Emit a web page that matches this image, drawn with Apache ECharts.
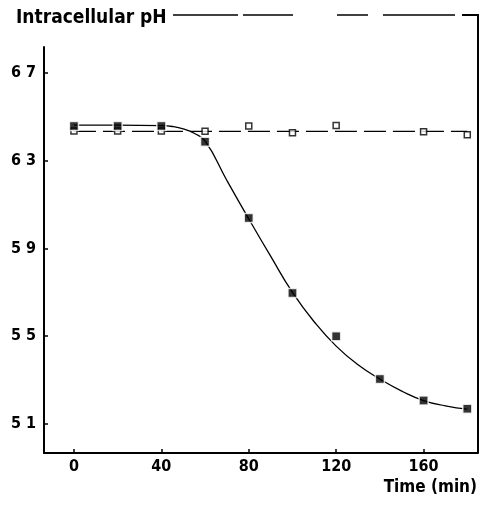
<!DOCTYPE html>
<html>
<head>
<meta charset="utf-8">
<script src="https://cdn.jsdelivr.net/npm/echarts@6/dist/echarts.min.js"></script>
<style>
  html, body { margin: 0; padding: 0; background: #fff; }
  #chart { width: 484px; height: 505px; }
</style>
</head>
<body>
<div id="chart"></div>
<script>
// Sampling times (min) and measured intracellular pH
var treatedTimes = [0, 20, 40, 60, 80, 100, 120, 140, 160, 180];
var treatedPH    = [6.458, 6.458, 6.458, 6.386, 6.039, 5.697, 5.50, 5.305, 5.207, 5.169];

var controlTimes = [0, 20, 40, 60, 80, 100, 120, 160, 180];
var controlPH    = [6.436, 6.436, 6.436, 6.434, 6.458, 6.427, 6.46, 6.432, 6.418];

// Hand-fitted curve through the treated series
var fitTimes = [0, 20, 40, 45, 50, 55, 60, 70, 80, 90, 100, 110, 120, 130, 140, 150, 160, 170, 180];
var fitPH    = [6.462, 6.462, 6.46, 6.456, 6.445, 6.425, 6.39, 6.21, 6.035, 5.865, 5.70, 5.565, 5.455, 5.37, 5.305, 5.25, 5.207, 5.183, 5.168];

// Mean level of the control series
var controlLevelTimes = [0, 180];
var controlLevelPH    = [6.434, 6.434];

// Axis ticks
var xTicks = [0, 40, 80, 120, 160];
var yTicks = [5.1, 5.5, 5.9, 6.3, 6.7];

function pairs(xs, ys) {
  return xs.map(function (x, i) { return [x, ys[i]]; });
}

var FONT = '"DejaVu Sans Condensed", "DejaVu Sans", sans-serif';
var INK = '#000';

var chart = echarts.init(document.getElementById('chart'), null, { renderer: 'canvas' });

chart.setOption({
  animation: false,
  backgroundColor: '#fff',
  title: [
    {
      text: 'Intracellular pH',
      left: 11, top: 4,
      textStyle: { fontFamily: FONT, fontWeight: 'bold', fontSize: 19, color: INK }
    },
    {
      text: 'Time (min)',
      right: 2, top: 474,
      textStyle: { fontFamily: FONT, fontWeight: 'bold', fontSize: 17, color: INK }
    }
  ],
  grid: { left: 44, right: 6, top: 47, bottom: 52, containLabel: false },
  xAxis: {
    type: 'value',
    min: -13.7, max: 184.9,
    splitLine: { show: false },
    axisLine: { show: true, onZero: false, lineStyle: { color: INK, width: 2 } },
    axisTick: { show: true, inside: true, length: 4, customValues: xTicks, lineStyle: { color: INK, width: 1.5 } },
    axisLabel: {
      customValues: xTicks, margin: 6, color: INK,
      fontFamily: FONT, fontWeight: 'bold', fontSize: 16,
      formatter: function (v) { return String(Math.round(v)); }
    }
  },
  yAxis: {
    type: 'value',
    min: 4.9678, max: 6.8183,
    splitLine: { show: false },
    axisLine: { show: true, onZero: false, lineStyle: { color: INK, width: 2 } },
    axisTick: { show: true, inside: true, length: 4, customValues: yTicks, lineStyle: { color: INK, width: 1.5 } },
    axisLabel: {
      customValues: yTicks, margin: 8, color: INK,
      fontFamily: FONT, fontWeight: 'bold', fontSize: 16,
      formatter: function (v) { return v.toFixed(1).replace('.', ' '); }
    }
  },
  graphic: [
    // open frame along the top and right side
    { type: 'line', shape: { x1: 173, y1: 15, x2: 238, y2: 15 }, style: { stroke: INK, lineWidth: 1.5 } },
    { type: 'line', shape: { x1: 243, y1: 15, x2: 293, y2: 15 }, style: { stroke: INK, lineWidth: 1.5 } },
    { type: 'line', shape: { x1: 337, y1: 15, x2: 368, y2: 15 }, style: { stroke: INK, lineWidth: 1.5 } },
    { type: 'line', shape: { x1: 383, y1: 15, x2: 455, y2: 15 }, style: { stroke: INK, lineWidth: 1.5 } },
    { type: 'polyline', shape: { points: [[462, 15], [478, 15], [478, 453]] }, style: { stroke: INK, lineWidth: 2, fill: null } }
  ],
  series: [
    {
      name: 'control level',
      type: 'line',
      data: pairs(controlLevelTimes, controlLevelPH),
      symbol: 'none',
      lineStyle: { color: INK, width: 1.3, type: [22, 7] },
      z: 2
    },
    {
      name: 'treated fit',
      type: 'line',
      data: pairs(fitTimes, fitPH),
      symbol: 'none',
      smooth: 0.5,
      lineStyle: { color: INK, width: 1.3 },
      z: 2
    },
    {
      name: 'control',
      type: 'scatter',
      data: pairs(controlTimes, controlPH),
      symbol: 'rect',
      symbolSize: 6,
      itemStyle: { color: '#fff', borderColor: INK, borderWidth: 1.5 },
      z: 3
    },
    {
      name: 'treated',
      type: 'scatter',
      data: pairs(treatedTimes, treatedPH),
      symbol: 'rect',
      symbolSize: 9,
      itemStyle: { color: INK, borderColor: '#fff', borderWidth: 1.5 },
      z: 4
    }
  ]
});
</script>
</body>
</html>
